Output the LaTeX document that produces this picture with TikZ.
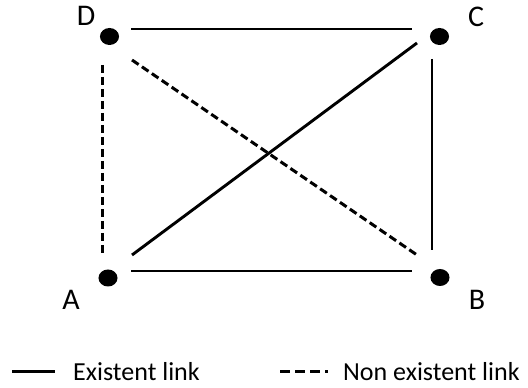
\documentclass[tikz,border=0pt]{standalone}
\usepackage{fontspec}
\setmainfont{Carlito}
\begin{document}
\begin{tikzpicture}[x=1pt,y=1pt,
  dot/.style={fill=black,circle,inner sep=0pt,minimum size=17pt,xscale=1.12},
  lbl/.style={inner sep=0pt,font=\fontsize{30}{33}\selectfont},
  link/.style={line width=2.9pt},
  nolink/.style={line width=3pt,dash pattern=on 8pt off 4pt},
  legtext/.style={inner sep=0pt,anchor=base west,font=\fontsize{26}{29}\selectfont}]
\useasboundingbox (0,0) rectangle (528,388);
% dots
\node[dot] (dD) at (109.5,351.5) {};
\node[dot] (dC) at (439.5,351.5) {};
\node[dot] (dA) at (108,110) {};
\node[dot] (dB) at (440,110.5) {};
% labels
\node[lbl] (lD) at (86,372) {D};
\node[lbl] (lC) at (476,371) {C};
\node[lbl] (lA) at (71,88) {A};
\node[lbl] (lB) at (477,88) {B};
% line end coordinates
\coordinate (DCl) at (131,359);
\coordinate (DCr) at (412,359);
\coordinate (ABl) at (131,117);
\coordinate (ABr) at (412,117);
\coordinate (DAt) at (102,323);
\coordinate (DAb) at (102,133);
\coordinate (BCt) at (432,329);
\coordinate (BCb) at (432,138);
\coordinate (ACa) at (132,133);
\coordinate (ACc) at (417,345);
\coordinate (DBd) at (132,328);
\coordinate (DBb) at (417,133);
% links
\draw[link] (DCl) -- (DCr);
\draw[link] (ABl) -- (ABr);
\draw[link] (BCt) -- (BCb);
\draw[link] (ACa) -- (ACc);
\draw[nolink] (DAt) -- (DAb);
\draw[nolink] (DBd) -- (DBb);
% legend
\coordinate (L1a) at (12,16);
\coordinate (L1b) at (55,16);
\coordinate (L2a) at (280,16);
\coordinate (L2b) at (328,16);
\draw[line width=3pt] (L1a) -- (L1b);
\draw[line width=3pt,dash pattern=on 10pt off 5pt] (L2a) -- (L2b);
\node[legtext] (t1) at (73,7) {Existent link};
\node[legtext] (t2) at (343,7) {Non existent link};
\end{tikzpicture}
\end{document}
